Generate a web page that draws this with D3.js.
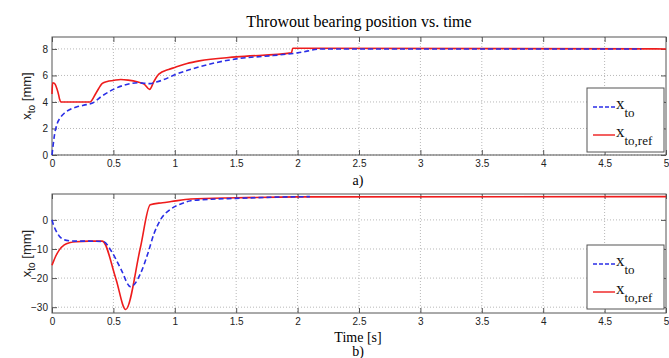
<!DOCTYPE html>
<html>
<head>
<meta charset="utf-8">
<script src="https://cdn.jsdelivr.net/npm/d3@7"></script>
<style>
  body { margin: 0; background: #fff; }
  svg { display: block; }
</style>
</head>
<body>
<div id="chart"></div>
<script>
// ---- data ----
const xTicks = [0, 0.5, 1, 1.5, 2, 2.5, 3, 3.5, 4, 4.5, 5];
const xTickLabels = ["0", "0.5", "1", "1.5", "2", "2.5", "3", "3.5", "4", "4.5", "5"];

// panel a) position
const yTicksA = [0, 2, 4, 6, 8];
const timeA = [0, 0.01, 0.02, 0.04, 0.07, 0.1, 0.15, 0.2, 0.28, 0.33, 0.4, 0.5, 0.6, 0.7, 0.8, 0.85, 0.9, 1.0, 1.2, 1.5, 1.8, 2.0, 2.2, 4.8];
const xtoA  = [0, 0.8, 1.5, 2.3, 2.85, 3.15, 3.45, 3.62, 3.8, 3.92, 4.4, 4.95, 5.3, 5.45, 5.38, 5.5, 5.65, 6.05, 6.65, 7.25, 7.5, 7.7, 8.0, 8.0];
const timeRefA = [0, 0.005, 0.02, 0.04, 0.055, 0.062, 0.072, 0.31, 0.36, 0.41, 0.45, 0.5, 0.56, 0.62, 0.7, 0.75, 0.795, 0.83, 0.87, 0.95, 1.0, 1.1, 1.2, 1.5, 1.95, 1.96, 2.0, 5.0];
const xtoRefA  = [4.6, 5.45, 5.4, 5.0, 4.5, 4.2, 4.0, 4.0, 4.7, 5.4, 5.55, 5.62, 5.7, 5.65, 5.5, 5.35, 4.95, 5.55, 6.1, 6.45, 6.6, 6.9, 7.1, 7.4, 7.7, 8.05, 8.05, 8.0];

// panel b) speed
const yTicksB = [-30, -20, -10, 0];
const timeB = [0, 0.01, 0.03, 0.06, 0.1, 0.15, 0.2, 0.3, 0.42, 0.48, 0.56, 0.64, 0.72, 0.78, 0.83, 0.88, 0.97, 1.05, 1.13, 1.3, 1.5, 1.8, 2.1];
const xtoB  = [0, -1.5, -3.5, -5.6, -6.8, -7.2, -7.3, -7.3, -7.5, -10.5, -16.8, -23, -18.5, -11.6, -4.8, -0.2, 3.8, 5.5, 6.6, 7.1, 7.4, 7.8, 8.0];
const timeRefB = [0, 0.01, 0.03, 0.06, 0.1, 0.15, 0.2, 0.3, 0.41, 0.52, 0.6, 0.72, 0.8, 0.9, 0.97, 1.13, 1.5, 2.0, 5.0];
const xtoRefB  = [-15.6, -14.5, -12.5, -10.3, -8.6, -7.8, -7.5, -7.3, -7.3, -20.2, -30.8, -9.5, 5.2, 5.9, 6.3, 7.2, 7.6, 7.9, 8.0];

const W = 669, H = 358;
const svg = d3.select("#chart").append("svg")
  .attr("width", W).attr("height", H);

// title
svg.append("text")
  .attr("x", 359).attr("y", 27)
  .attr("text-anchor", "middle")
  .style("font-family", "'Liberation Serif', serif")
  .style("font-size", "16px")
  .text("Throwout bearing position vs. time");

const x = d3.scaleLinear().domain([0, 5]).range([52, 666]);

function panel(opt) {
  const y = d3.scaleLinear().domain(opt.yDomain).range([opt.bottom, opt.top]);
  const g = svg.append("g");
  const left = x.range()[0], right = x.range()[1];

  // grid
  g.selectAll(".gx").data(xTicks.slice(1, -1)).enter().append("line")
    .attr("x1", d => x(d)).attr("x2", d => x(d))
    .attr("y1", opt.top).attr("y2", opt.bottom)
    .attr("stroke", "#b8b8b8").attr("stroke-dasharray", "1,2");
  g.selectAll(".gy").data(opt.yTicks).enter().append("line")
    .attr("x1", left).attr("x2", right)
    .attr("y1", d => y(d)).attr("y2", d => y(d))
    .attr("stroke", "#b8b8b8").attr("stroke-dasharray", "1,2");

  // axes (ticks inside, matlab box)
  const axB = g.append("g").attr("transform", `translate(0,${opt.bottom})`)
    .call(d3.axisBottom(x).tickValues(xTicks).tickFormat((d, i) => xTickLabels[i]).tickSizeInner(-5).tickSizeOuter(0).tickPadding(5));
  const axT = g.append("g").attr("transform", `translate(0,${opt.top})`)
    .call(d3.axisTop(x).tickValues(xTicks).tickFormat("").tickSizeInner(-5).tickSizeOuter(0));
  const axL = g.append("g").attr("transform", `translate(${left},0)`)
    .call(d3.axisLeft(y).tickValues(opt.yTicks).tickSizeInner(-5).tickSizeOuter(0).tickPadding(4));
  const axR = g.append("g").attr("transform", `translate(${right},0)`)
    .call(d3.axisRight(y).tickValues(opt.yTicks).tickFormat("").tickSizeInner(-5).tickSizeOuter(0));
  [axB, axT, axL, axR].forEach(a => {
    a.select(".domain").remove();
    a.selectAll("line").attr("stroke", "#555");
    a.selectAll("text")
      .style("font-family", "'Liberation Sans', Arial, sans-serif")
      .style("font-size", "10px").attr("fill", "#222");
  });
  g.append("rect")
    .attr("x", left).attr("y", opt.top)
    .attr("width", right - left).attr("height", opt.bottom - opt.top)
    .attr("fill", "none").attr("stroke", "#555").attr("stroke-width", 1);

  // lines
  const line = d3.line().x(d => x(d[0])).y(d => y(d[1])).curve(d3.curveMonotoneX);
  g.append("path")
    .datum(opt.refT.map((t, i) => [t, opt.refV[i]]))
    .attr("d", line).attr("fill", "none")
    .attr("stroke", "#ee1c1c").attr("stroke-width", 1.6);
  g.append("path")
    .datum(opt.t.map((t, i) => [t, opt.v[i]]))
    .attr("d", line).attr("fill", "none")
    .attr("stroke", "#2a2ee6").attr("stroke-width", 1.6)
    .attr("stroke-dasharray", "5,3");

  // y label
  const yl = g.append("text")
    .attr("transform", `translate(31,${(opt.top + opt.bottom) / 2}) rotate(-90)`)
    .attr("text-anchor", "middle")
    .style("font-family", "'Liberation Sans', Arial, sans-serif")
    .style("font-size", "13px").attr("fill", "#222");
  yl.append("tspan").text("x");
  yl.append("tspan").attr("dy", 4).style("font-size", "10px").text("to");
  yl.append("tspan").attr("dy", -4).text(" [mm]");

  // legend
  const lg = g.append("g").attr("transform", `translate(587,${opt.legTop})`);
  lg.append("rect").attr("width", 77).attr("height", 64)
    .attr("fill", "#fff").attr("stroke", "#555");
  const items = [
    { sub: "to", color: "#2a2ee6", dash: "4,2", ly: 19 },
    { sub: "to,ref", color: "#ee1c1c", dash: null, ly: 47 }
  ];
  items.forEach(it => {
    lg.append("line").attr("x1", 6).attr("x2", 28)
      .attr("y1", it.ly).attr("y2", it.ly)
      .attr("stroke", it.color).attr("stroke-width", 1.4)
      .attr("stroke-dasharray", it.dash);
    const t = lg.append("text").attr("x", 29).attr("y", it.ly + 2)
      .style("font-family", "'Liberation Serif', serif")
      .style("font-size", "17px").attr("fill", "#111");
    t.append("tspan").text("x");
    t.append("tspan").attr("dy", 8).style("font-size", "13px").text(it.sub);
  });

  // caption
  svg.append("text").attr("x", 358).attr("y", opt.capY)
    .attr("text-anchor", "middle")
    .style("font-family", "'Liberation Serif', serif")
    .style("font-size", "14px").text(opt.caption);
}

panel({
  top: 37, bottom: 155, yDomain: [0, 8.9], yTicks: yTicksA,
  t: timeA, v: xtoA, refT: timeRefA, refV: xtoRefA,
  legTop: 88, caption: "a)", capY: 185
});

panel({
  top: 194, bottom: 313, yDomain: [-32, 8.9], yTicks: yTicksB,
  t: timeB, v: xtoB, refT: timeRefB, refV: xtoRefB,
  legTop: 245, caption: "b)", capY: 356
});

svg.append("text").attr("x", 358).attr("y", 342)
  .attr("text-anchor", "middle")
  .style("font-family", "'Liberation Serif', serif")
  .style("font-size", "14px").text("Time [s]");
</script>
</body>
</html>
